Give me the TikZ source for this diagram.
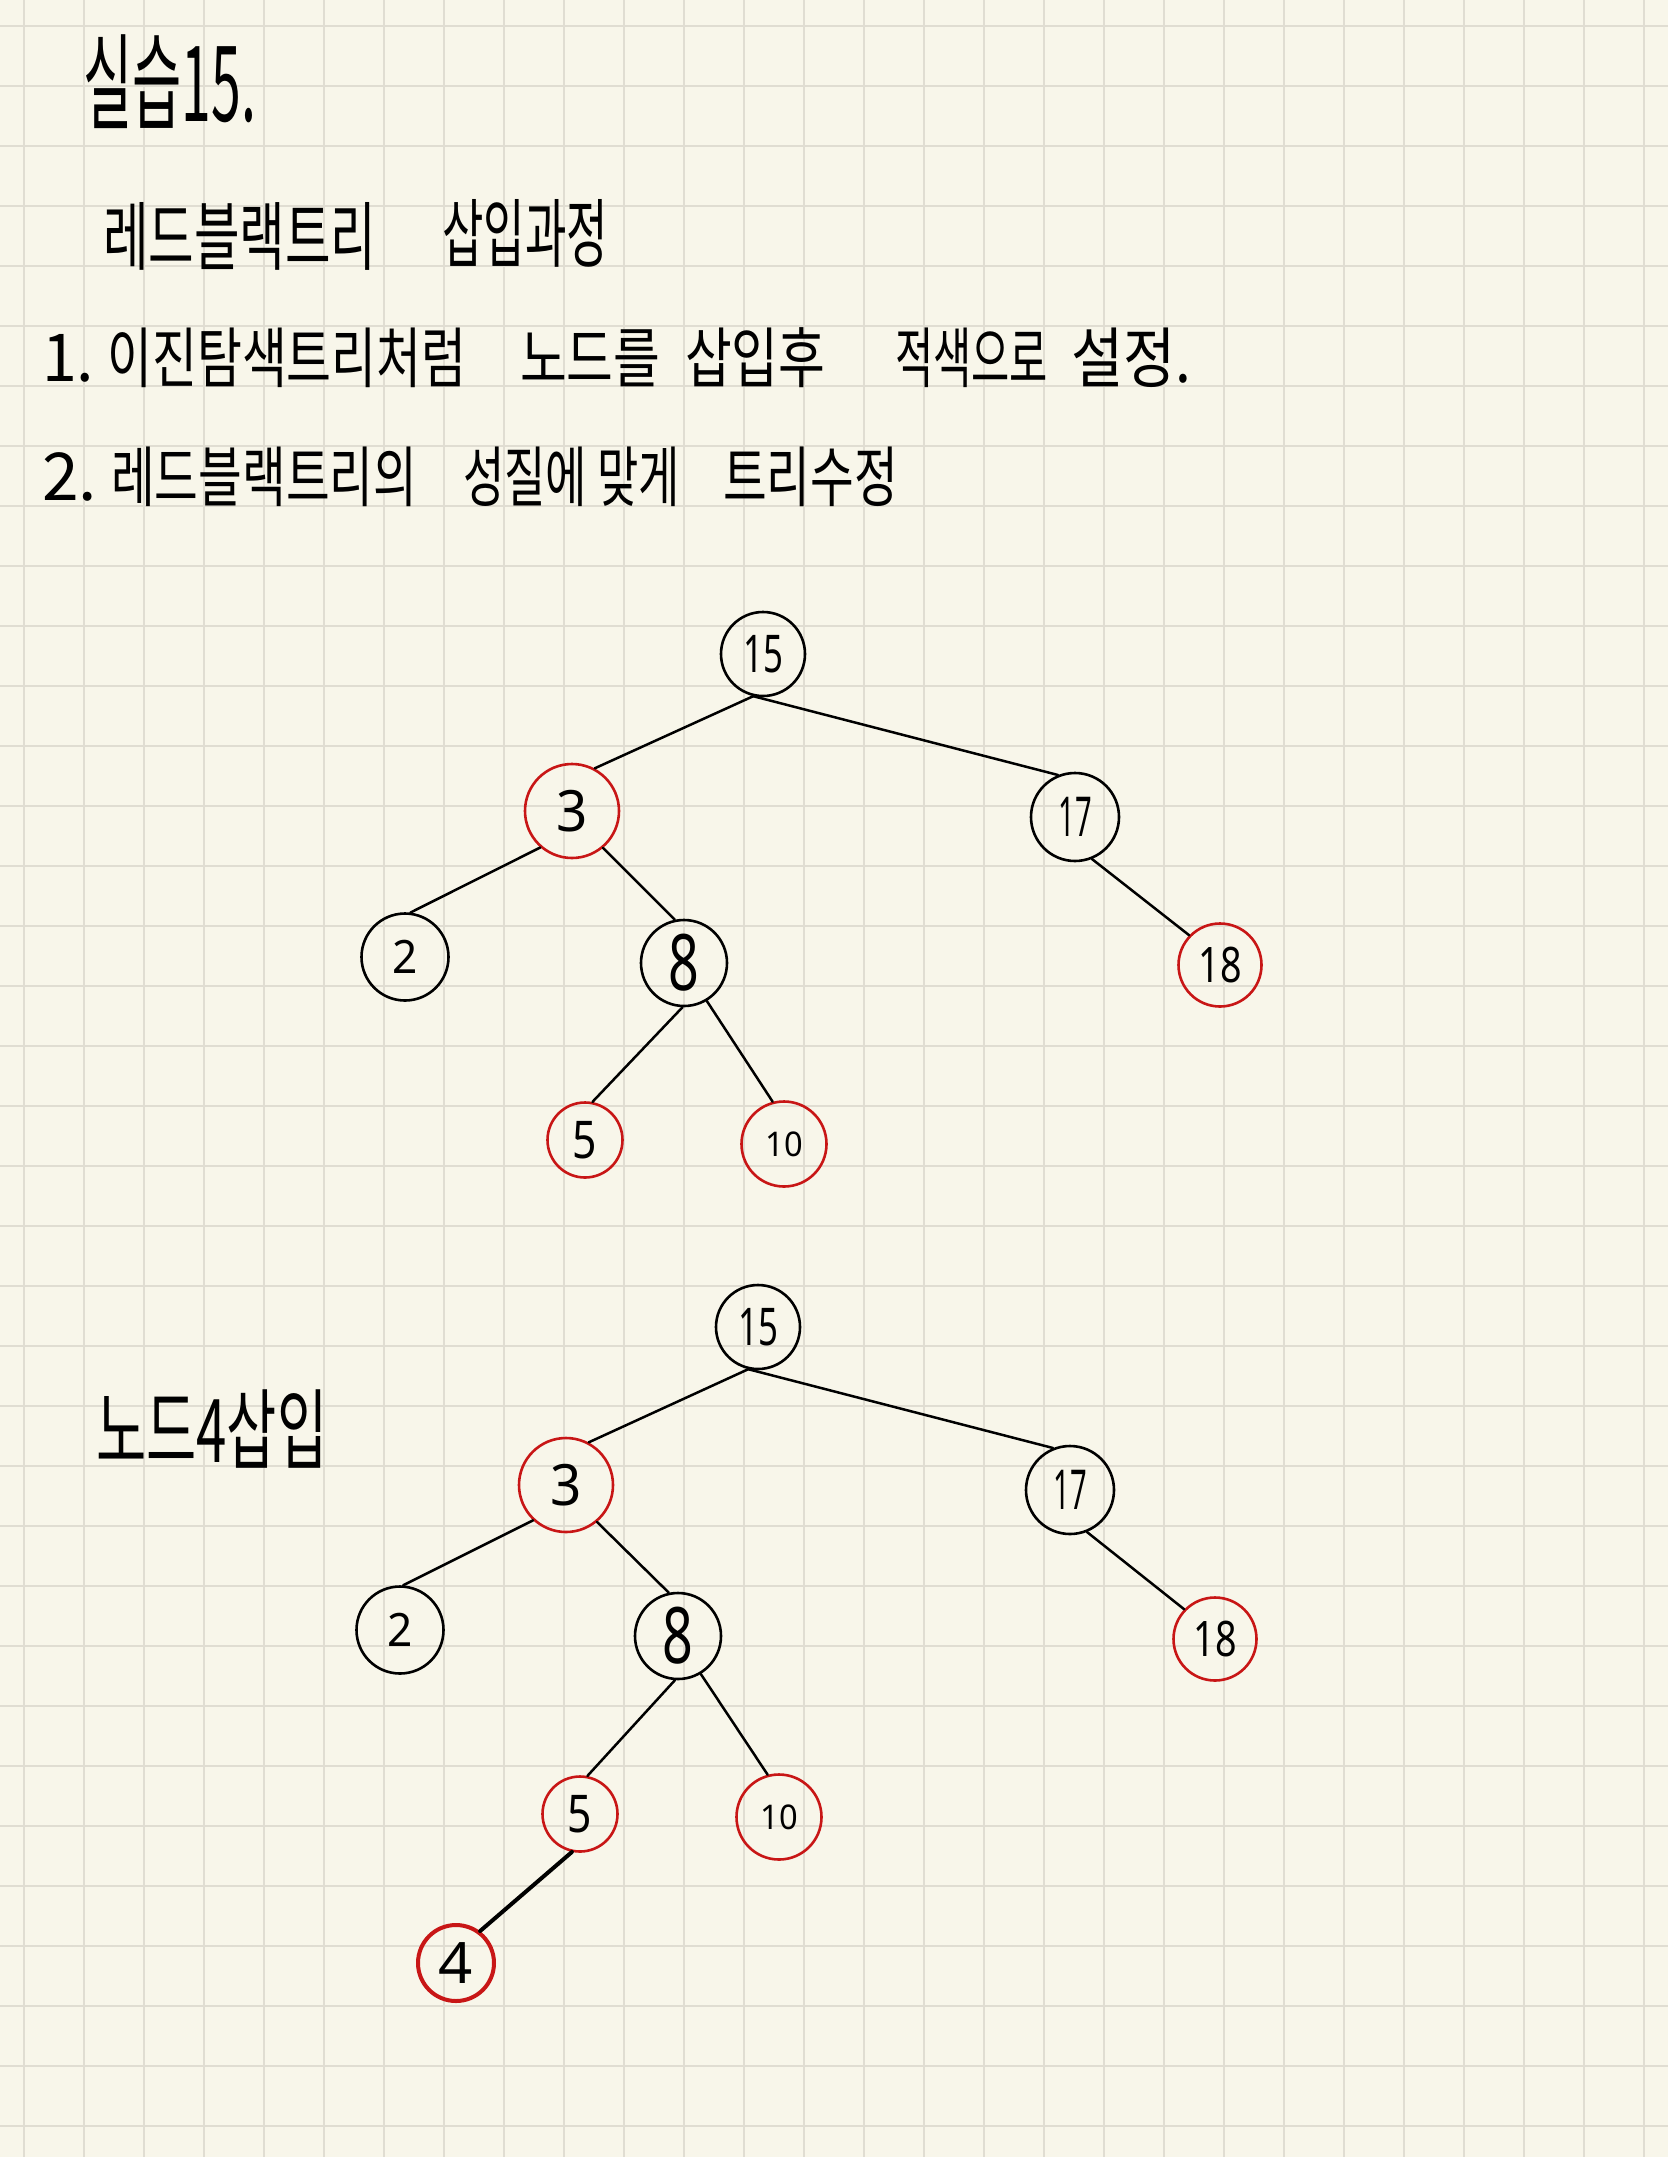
\documentclass[tikz,border=0pt]{standalone}
\usepackage{fontspec}
\usepackage{graphicx}
\newfontfamily\krfont{Noto Sans CJK KR}
\newfontfamily\dgfont{Noto Sans}
\definecolor{paper}{RGB}{248,246,234}
\definecolor{gridc}{RGB}{224,221,210}
\definecolor{rbred}{RGB}{200,22,22}
\newcommand\hw[3]{\scalebox{#2}[1]{\fontsize{#1pt}{#1pt}\selectfont\krfont #3}}
\newcommand\dg[3]{\scalebox{#2}[1]{\fontsize{#1pt}{#1pt}\selectfont\dgfont #3}}
\begin{document}
\begin{tikzpicture}[x=1pt,y=-1pt,
  gridline/.style={draw=gridc,line width=2pt},
  txt/.style={anchor=west,inner sep=0pt,text=black},
  bnode/.style={circle,draw=black,line width=2.6pt,inner sep=0pt,minimum size=#1},
  rnode/.style={circle,draw=rbred,line width=2.6pt,inner sep=0pt,minimum size=#1},
  edge/.style={draw=black,line width=2.5pt,line cap=round},
  thickedge/.style={draw=black,line width=4pt,line cap=round}]
\fill[paper] (0,0) rectangle (1668,2157);
\useasboundingbox (0,0) rectangle (1668,2157);
\foreach \i in {0,...,27} \draw[gridline] (24+60*\i,0) -- (24+60*\i,2157);
\foreach \j in {0,...,35} \draw[gridline] (0,26+60*\j) -- (1668,26+60*\j);

% texts
\node[txt] (title) at (83,82) {\hw{105}{0.51}{실습15.}};
\node[txt] (h1) at (103,236) {\hw{75}{0.66}{레드블랙트리}};
\node[txt] (h2) at (442,233) {\hw{75}{0.60}{삽입과정}};
\node[txt] (a0) at (42,358) {\hw{66}{0.95}{1.}};
\node[txt] (a1) at (107,358) {\hw{66}{0.74}{이진탐색트리처럼}};
\node[txt] (a2) at (520,358) {\hw{66}{0.77}{노드를}};
\node[txt] (a3) at (685,358) {\hw{66}{0.77}{삽입후}};
\node[txt] (a4) at (895,358) {\hw{66}{0.63}{적색으로}};
\node[txt] (a5) at (1071,358) {\hw{66}{0.86}{설정.}};
\node[txt] (b0) at (42,477) {\hw{66}{1.0}{2.}};
\node[txt] (b1) at (111,477) {\hw{66}{0.72}{레드블랙트리의}};
\node[txt] (b2) at (463,477) {\hw{66}{0.68}{성질에 맞게}};
\node[txt] (b3) at (723,477) {\hw{66}{0.72}{트리수정}};
\node[txt] (ins) at (96,1429) {\hw{88}{0.62}{노드4삽입}};

% tree 1
\node[bnode=84pt] (p15) at (763,654) {\dg{52}{0.67}{15}};
\node[rnode=94pt] (p3) at (572,811) {\dg{57}{0.96}{3}};
\node[bnode=88pt] (p17) at (1075,817) {\dg{55}{0.53}{17}};
\node[bnode=87pt] (p2) at (405,957) {\dg{46}{0.96}{2}};
\node[bnode=86pt] (p8) at (684,963) {\dg{78}{0.69}{8}};
\node[rnode=83pt] (p18) at (1220,965) {\dg{49}{0.77}{18}};
\node[rnode=75pt] (p5) at (585,1140) {\dg{52}{0.82}{5}};
\node[rnode=85pt] (p10) at (784,1144) {\dg{34}{0.96}{10}};
\draw[edge] (p15.-103) -- (p3.62);
\draw[edge] (p15.-103) -- (p17.112);
\draw[edge] (p3.-131) -- (p2.83);
\draw[edge] (p3.-50) -- (p8.102);
\draw[edge] (p17.-68) -- (p18.136);
\draw[edge] (p8.-92) -- (p5.79);
\draw[edge] (p8.-59) -- (p10.105);

% tree 2
\node[bnode=84pt] (q15) at (758,1327) {\dg{52}{0.67}{15}};
\node[rnode=94pt] (q3) at (566,1485) {\dg{57}{0.96}{3}};
\node[bnode=88pt] (q17) at (1070,1490) {\dg{55}{0.53}{17}};
\node[bnode=87pt] (q2) at (400,1630) {\dg{46}{0.96}{2}};
\node[bnode=86pt] (q8) at (678,1636) {\dg{78}{0.69}{8}};
\node[rnode=83pt] (q18) at (1215,1639) {\dg{49}{0.77}{18}};
\node[rnode=75pt] (q5) at (580,1814) {\dg{52}{0.82}{5}};
\node[rnode=85pt] (q10) at (779,1817) {\dg{34}{0.96}{10}};
\node[rnode=76pt,line width=4pt] (q4) at (456,1963) {\dg{57}{1.05}{4}};
\draw[edge] (q15.-103) -- (q3.62);
\draw[edge] (q15.-103) -- (q17.112);
\draw[edge] (q3.-133) -- (q2.86);
\draw[edge] (q3.-50) -- (q8.102);
\draw[edge] (q17.-68) -- (q18.136);
\draw[edge] (q8.-94) -- (q5.79);
\draw[edge] (q8.-59) -- (q10.105);
\draw[thickedge] (q5.-102) -- (q4.53);
\end{tikzpicture}
\end{document}
